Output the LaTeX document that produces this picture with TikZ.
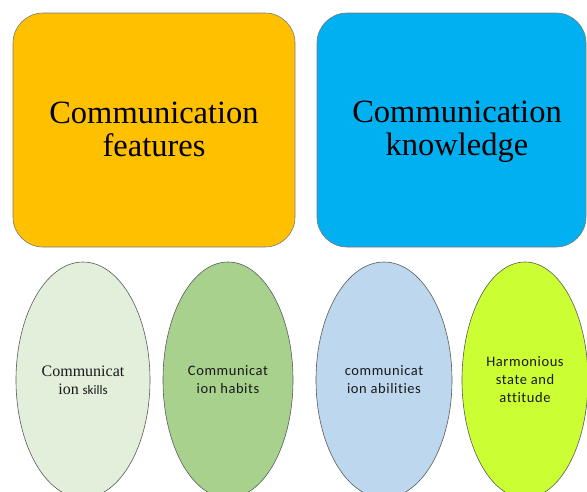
\documentclass[tikz,border=0pt]{standalone}
\usepackage{fontspec}
\setmainfont{Liberation Serif}
\newfontfamily\calfont[LetterSpace=4,Ligatures={NoCommon,NoContextual}]{Carlito}
\newfontfamily\calplain[Ligatures={NoCommon}]{Carlito}
\usetikzlibrary{shapes.geometric}
\definecolor{orangebox}{HTML}{FFC000}
\definecolor{bluebox}{HTML}{00B0F0}
\definecolor{ellA}{HTML}{E2EFDA}
\definecolor{ellB}{HTML}{A9D18E}
\definecolor{ellC}{HTML}{BDD7EE}
\definecolor{ellD}{HTML}{CCFF33}
\definecolor{edge}{HTML}{5A5A5A}
\tikzset{
  bigbox/.style={draw=edge!80, line width=0.6pt, rounded corners=30pt, minimum width=#1, minimum height=234pt, inner sep=0pt},
  bigtext/.style={align=center, inner sep=0pt, font=\fontsize{32.5}{33}\selectfont},
  oval/.style={ellipse, draw=edge, line width=0.6pt, minimum height=236pt, inner sep=0pt, align=center, font=\calfont\fontsize{14.5}{18}\selectfont, text=black!90},
}
\begin{document}
\begin{tikzpicture}[x=1pt,y=-1pt]
\useasboundingbox (0,0) rectangle (587,491);
\fill[white] (0,0) rectangle (587,491);
\clip (0,0) rectangle (587,491);
\node[bigbox=282pt, fill=orangebox] (feat) at (154,130) {};
\node[bigtext] (feattext) at (154,129) {Communication\\features};
\node[bigbox=269pt, fill=bluebox] (know) at (451.5,130) {};
\node[bigtext] (knowtext) at (457,132) {Communication\\knowledge};
\node[oval, fill=ellA, minimum width=134pt] (skills) at (83,380) {{\rmfamily\fontsize{16}{17}\selectfont Communicat}\\{\rmfamily\fontsize{16}{17}\selectfont ion}\ {\calplain\fontsize{13}{17}\selectfont skills}};
\node[oval, fill=ellB, minimum width=130pt] (habits) at (228,380) {Communicat\\ion habits};
\node[oval, fill=ellC, minimum width=136pt] (abil) at (384,380) {communicat\\ion abilities};
\node[oval, fill=ellD, minimum width=126pt] (harm) at (525,380) {Harmonious\\state and\\attitude};
\end{tikzpicture}
\end{document}
